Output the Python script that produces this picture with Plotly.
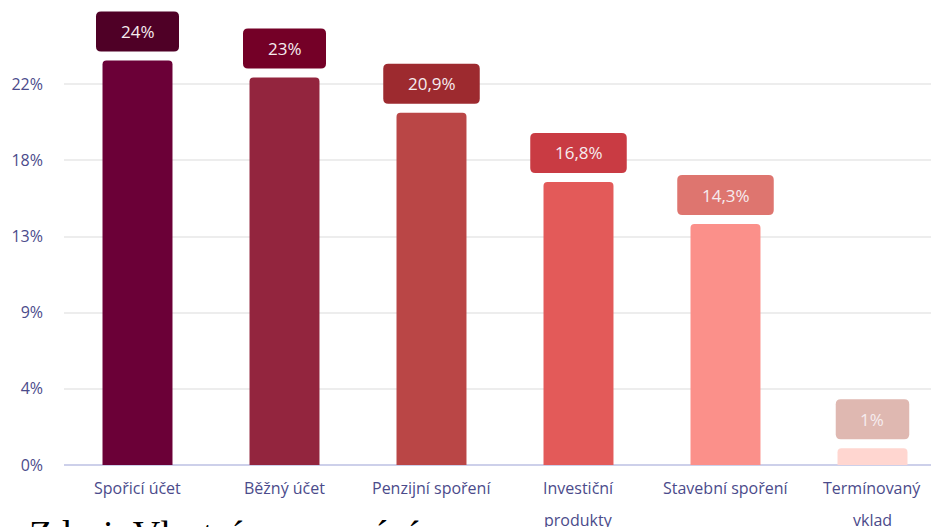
import math
import plotly.graph_objects as go

# Survey results: share of respondents per savings product
categories = ["Spořicí účet", "Běžný účet", "Penzijní spoření",
              "Investiční\nprodukty", "Stavební spoření", "Termínovaný\nvklad"]
values = [24, 23, 20.9, 16.8, 14.3, 1]
value_labels = ["24%", "23%", "20,9%", "16,8%", "14,3%", "1%"]

bar_colors = ["#6B0037", "#93253E", "#BA4646", "#E35A59", "#FB908A", "#FFD6D0"]
badge_colors = ["#4F0026", "#740027", "#9D2A2F", "#C93B43", "#DE756F", "#DFB8B1"]

# y axis ticks (labels are truncated to whole percents)
tick_step = 4.52
tick_count = 6
tick_vals = [k * tick_step for k in range(tick_count)]
tick_text = [f"{math.floor(v)}%" for v in tick_vals]

label_font = "Open Sans"
axis_text_color = "#4B4B8B"

fig = go.Figure()
fig.add_trace(go.Bar(
    x=list(range(len(categories))),
    y=values,
    width=0.476,
    marker=dict(color=bar_colors, cornerradius=4, line=dict(width=0)),
    hoverinfo="skip",
))


def text_width(s):
    w = 0
    for ch in s:
        if ch.isdigit():
            w += 9.5
        elif ch == "%":
            w += 13
        else:
            w += 4
    return w


gap, box_h, radius = 9, 40, 5
shapes = []
annotations = []
for i, (v, lab) in enumerate(zip(values, value_labels)):
    half = (text_width(lab) + 51) / 2
    y0, y1 = gap, gap + box_h
    r = radius
    path = (f"M {-half + r},{y0} L {half - r},{y0} Q {half},{y0} {half},{y0 + r} "
            f"L {half},{y1 - r} Q {half},{y1} {half - r},{y1} "
            f"L {-half + r},{y1} Q {-half},{y1} {-half},{y1 - r} "
            f"L {-half},{y0 + r} Q {-half},{y0} {-half + r},{y0} Z")
    shapes.append(dict(type="path", xref="x", yref="y", xsizemode="pixel",
                       ysizemode="pixel", xanchor=i, yanchor=v, path=path,
                       fillcolor=badge_colors[i], line=dict(width=0), layer="above"))
    annotations.append(dict(x=i, y=v, xref="x", yref="y", text=lab, showarrow=False,
                            yshift=gap + box_h / 2, yanchor="middle",
                            font=dict(family=label_font, size=17, color="#F6ECEF")))

# category labels, one annotation per line
for i, cat in enumerate(categories):
    for j, line in enumerate(cat.split("\n")):
        annotations.append(dict(x=i, y=0, xref="x", yref="y", text=line, showarrow=False,
                                yanchor="middle", yshift=-23 - 32 * j,
                                font=dict(family=label_font, size=16, color=axis_text_color)))

annotations.append(dict(x=0, y=0, xref="paper", yref="paper", xanchor="left", yanchor="top",
                        xshift=-37, yshift=-46, text="Zdroj: Vlastní zpracování",
                        showarrow=False,
                        font=dict(family="Liberation Serif", size=38, color="#000000")))

fig.update_layout(
    width=931, height=527,
    margin=dict(l=64, r=0, t=0, b=62),
    paper_bgcolor="white", plot_bgcolor="white",
    showlegend=False,
    shapes=shapes, annotations=annotations,
    xaxis=dict(range=[-0.5, 5.398], showticklabels=False, showgrid=False,
               zeroline=False, showline=False, fixedrange=True),
    yaxis=dict(range=[0, 465 / 16.85], tickvals=tick_vals, ticktext=tick_text,
               showgrid=True, gridcolor="#EDEDED", gridwidth=1.5,
               zeroline=True, zerolinecolor="#CDD0EA", zerolinewidth=1.5,
               showline=False, ticks="", ticklabelstandoff=20,
               tickfont=dict(family=label_font, size=16, color=axis_text_color),
               fixedrange=True),
)
fig.update_traces(cliponaxis=False)

fig.write_html("out.html")
